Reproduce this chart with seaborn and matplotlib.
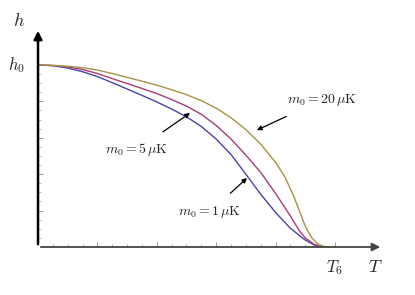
import pandas as pd
import matplotlib.pyplot as plt
import seaborn as sns

sns.set_style("white")
plt.rcParams['mathtext.fontset'] = 'cm'
plt.rcParams['font.family'] = ['DejaVu Serif']

# curves, T in units of T_6, h in units of h_0
t_1uk = [0.0, 0.05, 0.1, 0.15, 0.2, 0.25, 0.3, 0.35, 0.4, 0.45, 0.5, 0.55, 0.6, 0.65,
         0.7, 0.75, 0.8, 0.85, 0.9, 0.93, 0.95]
h_1uk = [1.0, 0.996, 0.983, 0.963, 0.936, 0.903, 0.868, 0.833, 0.797, 0.758, 0.715, 0.662,
         0.593, 0.508, 0.40, 0.29, 0.19, 0.103, 0.038, 0.012, 0.0]

t_5uk = [0.0, 0.05, 0.1, 0.15, 0.2, 0.25, 0.3, 0.35, 0.4, 0.45, 0.5, 0.55, 0.6, 0.65,
         0.7, 0.75, 0.8, 0.85, 0.88, 0.9, 0.93, 0.956]
h_5uk = [1.0, 0.997, 0.989, 0.975, 0.953, 0.925, 0.898, 0.871, 0.843, 0.81, 0.774, 0.729,
         0.668, 0.593, 0.505, 0.41, 0.295, 0.17, 0.09, 0.05, 0.015, 0.0]

t_20uk = [0.0, 0.05, 0.1, 0.15, 0.2, 0.25, 0.3, 0.35, 0.4, 0.45, 0.5, 0.55, 0.6, 0.65,
          0.7, 0.75, 0.8, 0.83, 0.86, 0.88, 0.9, 0.92, 0.94, 0.96, 0.98, 1.0]
h_20uk = [1.0, 0.998, 0.993, 0.985, 0.972, 0.953, 0.932, 0.911, 0.889, 0.864, 0.837, 0.804,
          0.763, 0.71, 0.645, 0.565, 0.465, 0.39, 0.285, 0.2, 0.115, 0.055, 0.02, 0.004, 0.0, 0.0]

labels = [r'$m_0 = 1\,\mu\mathrm{K}$', r'$m_0 = 5\,\mu\mathrm{K}$', r'$m_0 = 20\,\mu\mathrm{K}$']
colors = ['#4646a8', '#a83c78', '#a39443']

df = pd.concat([
    pd.DataFrame({'T': t_1uk, 'h': h_1uk, 'm0': labels[0]}),
    pd.DataFrame({'T': t_5uk, 'h': h_5uk, 'm0': labels[1]}),
    pd.DataFrame({'T': t_20uk, 'h': h_20uk, 'm0': labels[2]}),
])

fig = plt.figure(figsize=(4.15, 2.95), dpi=100)
ax = fig.add_axes([0.0916, 0.1627, 0.8313, 0.7424])
sns.lineplot(data=df, x='T', y='h', hue='m0', palette=dict(zip(labels, colors)),
             sort=False, estimator=None, linewidth=1.0, legend=False, ax=ax)
ax.set_xlim(0, 1.162)
ax.set_ylim(0, 1.203)
for s in ax.spines.values():
    s.set_visible(False)

# axes drawn as arrows
ax.annotate('', xy=(1.0, 0), xycoords='axes fraction', xytext=(0, 0),
            arrowprops=dict(arrowstyle='-|>', color='#444444', lw=1.3, mutation_scale=12))
ax.annotate('', xy=(0, 1.0), xycoords='axes fraction', xytext=(0, 0),
            arrowprops=dict(arrowstyle='-|>', color='black', lw=1.8, mutation_scale=12))

major = [0.2, 0.4, 0.6, 0.8, 1.0]
minor = [i * 0.05 for i in range(1, 21)]
ax.set_xticks(major)
ax.set_yticks(major)
ax.set_xticks(minor, minor=True)
ax.set_yticks(minor, minor=True)
ax.set_xticklabels([])
ax.set_yticklabels([])
ax.tick_params(axis='both', which='major', direction='in', length=3.5, width=0.6,
               color='#888888', bottom=True, left=True)
ax.tick_params(axis='both', which='minor', direction='in', length=2, width=0.5,
               color='#999999', bottom=True, left=True)
ax.set_xlabel('')
ax.set_ylabel('')

ax.text(1.0, -0.06, r'$T_6$', ha='center', va='top', fontsize=12)
ax.text(1.135, -0.06, r'$T$', ha='center', va='top', fontsize=13)
ax.text(-0.045, 1.0, r'$h_0$', ha='right', va='center', fontsize=12)
ax.text(-0.045, 1.24, r'$h$', ha='right', va='center', fontsize=13, clip_on=False)

arrow = dict(arrowstyle='-|>', color='black', lw=0.9, mutation_scale=7)
ax.annotate(labels[2], xy=(0.737, 0.642), xytext=(0.957, 0.808),
            ha='center', va='center', fontsize=10, arrowprops=dict(arrow, shrinkA=9, shrinkB=0))
ax.annotate(labels[1], xy=(0.512, 0.736), xytext=(0.333, 0.533),
            ha='center', va='center', fontsize=10, arrowprops=dict(arrow, shrinkA=8, shrinkB=0))
ax.annotate(labels[0], xy=(0.704, 0.379), xytext=(0.579, 0.192),
            ha='center', va='center', fontsize=10, arrowprops=dict(arrow, shrinkA=8, shrinkB=0))

fig.savefig('out.png', dpi=100)
